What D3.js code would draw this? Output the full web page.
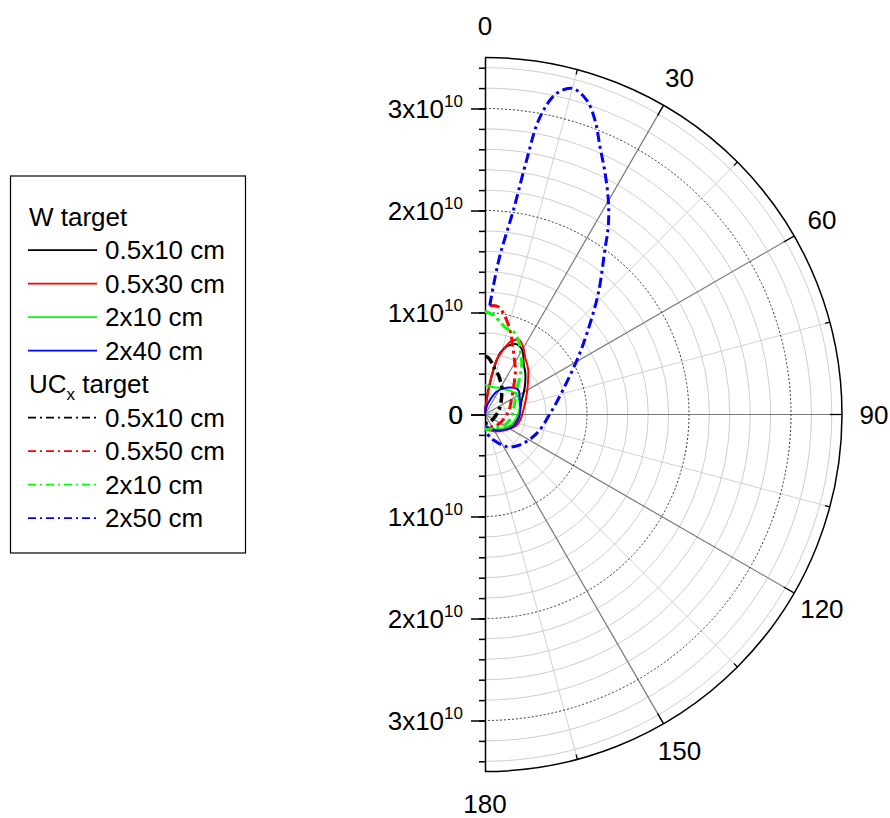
<!DOCTYPE html>
<html>
<head>
<meta charset="utf-8">
<script src="https://cdn.jsdelivr.net/npm/d3@7"></script>
<style>
  body { margin: 0; background: #fff; }
  svg { font-family: "Liberation Sans", Arial, sans-serif; }
</style>
</head>
<body>
<svg id="chart" width="890" height="818"></svg>
<script>
// values: [angle in degrees, radius in units of 1x10^10]
var wTarget05x10 = [[0,0.02],[4,0.08],[7,0.2],[10.6,0.44],[13.8,0.62],[17.7,0.70],[24,0.755],[30,0.73],[37,0.63],[45,0.56],[52,0.50],[60,0.44],[68,0.39],[80,0.35],[94,0.33],[105,0.30],[116,0.27],[130,0.23],[143,0.19],[158,0.15],[170,0.13],[180,0.12]];
var wTarget05x30 = [[0,0.02],[4,0.07],[6.7,0.14],[9,0.31],[12,0.55],[15.8,0.66],[19,0.75],[22,0.79],[25.4,0.80],[29.5,0.76],[34.7,0.69],[44,0.61],[54,0.52],[67,0.44],[83,0.38],[99,0.35],[108,0.33],[125,0.26],[146,0.20],[168,0.155],[180,0.14]];
var wTarget2x10 = [[0,0.29],[8,0.28],[16,0.28],[30,0.30],[41,0.32],[50,0.35],[60,0.37],[70,0.36],[82,0.34],[95,0.31],[110,0.28],[125,0.23],[140,0.19],[155,0.16],[170,0.14],[180,0.13]];
var wTarget2x40 = [[0,0.01],[12,0.08],[19,0.15],[27,0.25],[35,0.31],[44.5,0.37],[53.6,0.405],[67.5,0.37],[82.7,0.35],[99,0.33],[113,0.30],[130,0.235],[152,0.17],[170,0.12],[180,0.11]];

var ucTarget05x10 = [[0,0.57],[3,0.56],[9.5,0.49],[12.7,0.45],[18.6,0.41],[23.5,0.37],[31,0.32],[38,0.265],[45,0.23],[62.5,0.166],[80,0.13],[102,0.10],[125,0.09],[145,0.086],[165,0.085],[180,0.085]];
var ucTarget05x50 = [[2.5,1.07],[7,1.065],[11.6,0.98],[16.5,0.86],[19.7,0.78],[23.7,0.69],[28.9,0.60],[35,0.52],[45,0.40],[60,0.30],[80,0.24],[96,0.20],[120,0.17],[146,0.145],[180,0.12]];
var ucTarget2x10 = [[0,1.01],[4.8,0.98],[9.2,0.92],[14.1,0.87],[18.9,0.86],[24.1,0.80],[28.5,0.72],[35.6,0.62],[42.8,0.505],[52.3,0.39],[69.5,0.31],[95,0.26],[117.7,0.22],[149,0.16],[180,0.15]];
var ucTarget2x50 = [[2.5,1.07],[3.7,1.26],[5.4,1.57],[7.9,2.02],[9.3,2.53],[10.4,2.95],[12.5,3.22],[15,3.31],[17.9,3.24],[20.5,3.08],[23.2,2.86],[26.5,2.64],[30.3,2.40],[33.3,2.20],[36,2.0],[43,1.63],[51.4,1.28],[59.3,1.05],[72.6,0.80],[89,0.64],[110,0.54],[131,0.455],[146,0.38],[162,0.26],[175,0.185],[180,0.16]];

var wLabels = ['0.5x10 cm', '0.5x30 cm', '2x10 cm', '2x40 cm'];
var ucLabels = ['0.5x10 cm', '0.5x50 cm', '2x10 cm', '2x50 cm'];
var seriesColors = ['#000000', '#ff0000', '#00ff00', '#0000ff'];

var radialMajor = [0, 1, 2, 3];
var radialMax = 3.5;
var angleLabels = [0, 30, 60, 90, 120, 150, 180];

var svg = d3.select('#chart');
var cx = 485, cy = 414.5, R = 357;
var r = d3.scaleLinear().domain([0, radialMax]).range([0, R]);
var rad = function(a) { return a * Math.PI / 180; };
var px = function(a, rr) { return [rr * Math.sin(rad(a)), -rr * Math.cos(rad(a))]; };

var g = svg.append('g').attr('transform', 'translate(' + cx + ',' + cy + ')');

function halfCircle(rr) {
    var p = d3.path();
    p.moveTo(0, -rr);
    p.arc(0, 0, rr, -Math.PI / 2, Math.PI / 2);
    return p.toString();
}

// minor grid circles every 0.2
var minorR = d3.range(1, 18).filter(function(i) { return i % 5 !== 0; }).map(function(i) { return i * 0.2; });
g.selectAll('.minor-circle')
    .data(minorR)
    .enter().append('path')
    .attr('class', 'minor-circle')
    .attr('d', function(d) { return halfCircle(r(d)); })
    .attr('fill', 'none')
    .attr('stroke', '#c8c8c8')
    .attr('stroke-width', 0.9);

// radial spokes every 15 deg
g.selectAll('.spoke')
    .data(d3.range(15, 180, 15))
    .enter().append('line')
    .attr('class', 'spoke')
    .attr('x1', 0).attr('y1', 0)
    .attr('x2', function(d) { return px(d, R)[0]; })
    .attr('y2', function(d) { return px(d, R)[1]; })
    .attr('stroke', function(d) { return d % 30 === 0 ? '#7a7a7a' : '#cccccc'; })
    .attr('stroke-width', function(d) { return d % 30 === 0 ? 1.2 : 0.9; });

// dotted major circles
g.selectAll('.major-circle')
    .data(radialMajor.filter(function(d) { return d > 0; }))
    .enter().append('path')
    .attr('class', 'major-circle')
    .attr('d', function(d) { return halfCircle(r(d)); })
    .attr('fill', 'none')
    .attr('stroke', '#333')
    .attr('stroke-width', 1)
    .attr('stroke-dasharray', '2,2');

// outer circle
g.append('path')
    .attr('d', halfCircle(R))
    .attr('fill', 'none')
    .attr('stroke', '#000')
    .attr('stroke-width', 1.5);

// angle ticks on outer circle
g.selectAll('.angle-tick')
    .data(d3.range(15, 180, 15))
    .enter().append('line')
    .attr('class', 'angle-tick')
    .attr('x1', function(d) { return px(d, R - (d % 30 === 0 ? 12 : 5))[0]; })
    .attr('y1', function(d) { return px(d, R - (d % 30 === 0 ? 12 : 5))[1]; })
    .attr('x2', function(d) { return px(d, R)[0]; })
    .attr('y2', function(d) { return px(d, R)[1]; })
    .attr('stroke', '#000')
    .attr('stroke-width', 1.3);

// angle labels
g.selectAll('.angle-label')
    .data(angleLabels)
    .enter().append('text')
    .attr('class', 'angle-label')
    .attr('x', function(d) { return px(d, 389)[0]; })
    .attr('y', function(d) { return px(d, 389)[1] + 9; })
    .attr('text-anchor', 'middle')
    .attr('font-size', 26)
    .text(function(d) { return d; });

// radial axis, upward and downward
var yUp = d3.scaleLinear().domain([0, radialMax]).range([0, -R]);
var yDown = d3.scaleLinear().domain([0, radialMax]).range([0, R]);
var minorTicks = d3.range(0, 18).map(function(i) { return i * 0.2; });
[yUp, yDown].forEach(function(sc) {
    g.append('g')
        .call(d3.axisLeft(sc).tickValues(minorTicks).tickSize(6).tickSizeOuter(0).tickFormat(''))
        .call(function(a) { a.selectAll('path,line').attr('stroke', '#000').attr('stroke-width', 1.5); });
    g.append('g')
        .call(d3.axisLeft(sc).tickValues(radialMajor).tickSize(14).tickSizeOuter(0).tickFormat(''))
        .call(function(a) { a.select('.domain').remove(); a.selectAll('line').attr('stroke', '#000').attr('stroke-width', 1.5); });
    radialMajor.forEach(function(v) {
        var t = g.append('text')
            .attr('x', -22)
            .attr('y', sc(v) + 9)
            .attr('text-anchor', 'end')
            .attr('font-size', 26);
        if (v === 0) {
            t.text('0');
        } else {
            t.append('tspan').text(v + 'x10');
            t.append('tspan').attr('font-size', 17).attr('dy', -11).text('10');
        }
    });
});

// curves
var line = d3.lineRadial()
    .angle(function(d) { return rad(d[0]); })
    .radius(function(d) { return r(d[1]); })
    .curve(d3.curveCatmullRom.alpha(0.5));

var solidSeries = [wTarget05x10, wTarget05x30, wTarget2x10, wTarget2x40];
var dashSeries = [ucTarget05x10, ucTarget05x50, ucTarget2x10, ucTarget2x50];

g.selectAll('.w-line')
    .data(solidSeries)
    .enter().append('path')
    .attr('class', 'w-line')
    .attr('d', line)
    .attr('fill', 'none')
    .attr('stroke', function(d, i) { return seriesColors[i]; })
    .attr('stroke-width', 2);

g.selectAll('.uc-line')
    .data(dashSeries)
    .enter().append('path')
    .attr('class', 'uc-line')
    .attr('d', line)
    .attr('fill', 'none')
    .attr('stroke', function(d, i) { return seriesColors[i]; })
    .attr('stroke-width', function(d, i) { return i === 0 ? 3.5 : 3; })
    .attr('stroke-dasharray', '10,4,3,4');

// legend
var lg = svg.append('g');
lg.append('rect')
    .attr('x', 10.5).attr('y', 176)
    .attr('width', 235).attr('height', 377)
    .attr('fill', '#fff')
    .attr('stroke', '#000')
    .attr('stroke-width', 1.2);

var rowY = d3.scaleLinear().domain([0, 1]).range([216.7, 250.2]);
lg.append('text').attr('x', 29).attr('y', rowY(0) + 9).attr('font-size', 26).text('W target');
var uct = lg.append('text').attr('x', 29).attr('y', rowY(5) + 9).attr('font-size', 26);
uct.append('tspan').text('UC');
uct.append('tspan').attr('font-size', 17).attr('dy', 7).text('x');
uct.append('tspan').attr('dy', -7).text(' target');

function legendRows(labels, start, dash) {
    labels.forEach(function(lab, i) {
        var y = rowY(start + i);
        lg.append('line')
            .attr('x1', 28).attr('x2', 97)
            .attr('y1', y).attr('y2', y)
            .attr('stroke', seriesColors[i])
            .attr('stroke-width', 1.7)
            .attr('stroke-dasharray', dash);
        lg.append('text')
            .attr('x', 105).attr('y', y + 9)
            .attr('font-size', 26)
            .text(lab);
    });
}
legendRows(wLabels, 1, null);
legendRows(ucLabels, 6, '8,4,2,4');
</script>
</body>
</html>
